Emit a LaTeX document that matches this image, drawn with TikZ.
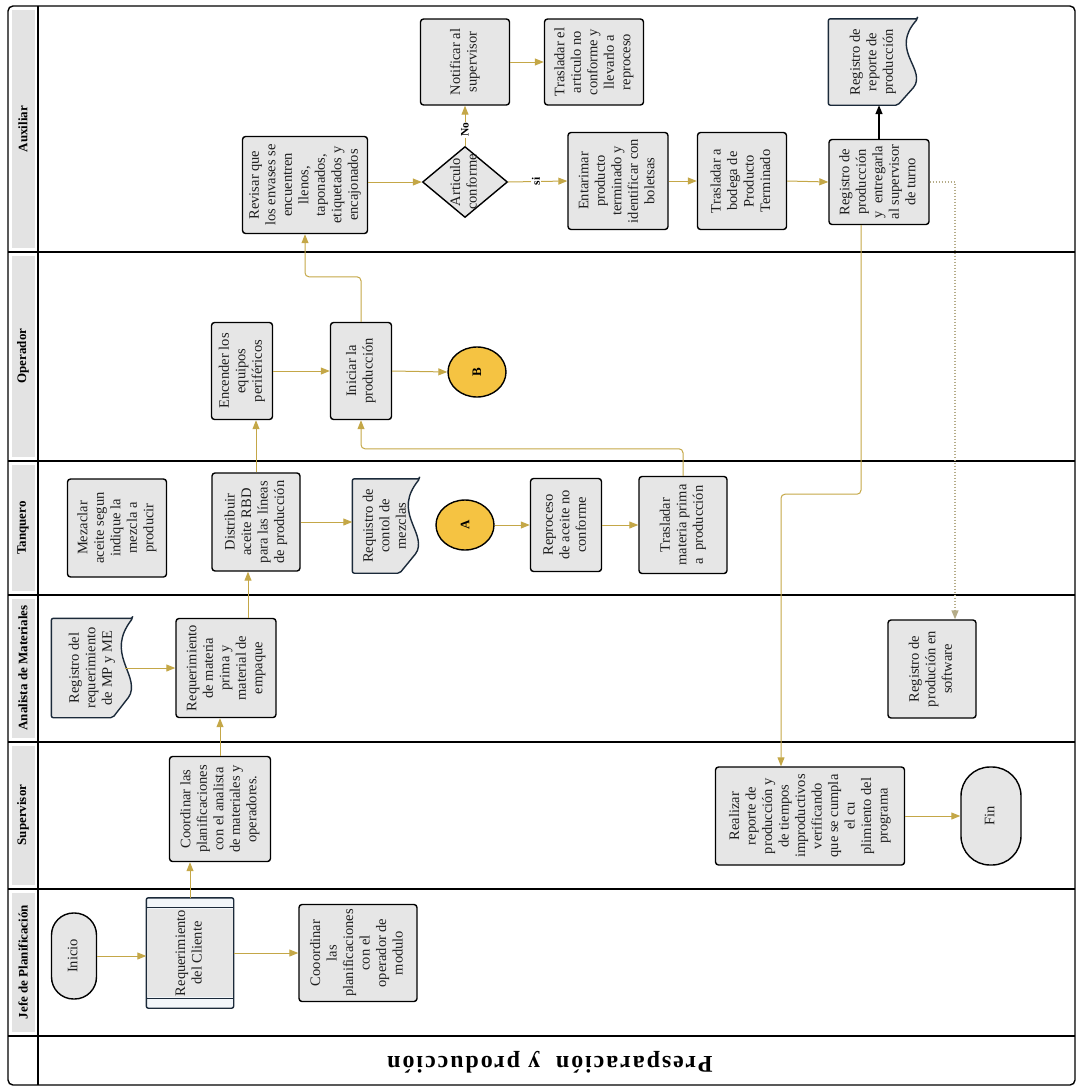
\documentclass[tikz,border=0pt]{standalone}
\usepackage{fontspec}
\setmainfont{Liberation Serif}
\usepackage{graphicx}
\usepackage{tikz}
\usetikzlibrary{positioning,arrows.meta,shapes.geometric,backgrounds,calc}
\definecolor{LaneGray}{HTML}{E3E3E3}
\definecolor{BoxGray}{HTML}{E6E6E6}
\definecolor{FlowGold}{HTML}{C4A747}
\definecolor{DotGold}{HTML}{B5AC88}
\definecolor{ConnGold}{HTML}{F5C342}
\definecolor{DocNavy}{HTML}{1B2A3A}
\definecolor{StripBlue}{HTML}{F2F6FA}
\definecolor{TextDark}{HTML}{1E1E1E}
\newcommand{\vtext}[1]{\rotatebox{90}{\begin{tabular}{@{}c@{}}#1\end{tabular}}}
% wavy document outline, wave on the right side
\newcommand{\docshape}[1]{%
  \filldraw[docline] (#1.north east) -- (#1.north west) -- (#1.south west)
    -- ($(#1.south east)+(-20pt,0)$)
    -- ($(#1.north east)!0.78!(#1.south east)+(-3pt,0)$)
    .. controls ($(#1.north east)!0.55!(#1.south east)+(5pt,0)$)
    and ($(#1.north east)!0.35!(#1.south east)+(-27pt,0)$) .. cycle;}
\tikzset{
  procbox/.style={rectangle, rounded corners=3pt, draw=black, line width=1.4pt,
    fill=BoxGray, inner sep=0pt, text=TextDark, font=\fontsize{14.5}{16.5}\selectfont},
  docbox/.style={rectangle, inner sep=0pt, text=TextDark, font=\fontsize{14.5}{16.5}\selectfont},
  docline/.style={draw=DocNavy, fill=BoxGray, line width=1.4pt, rounded corners=2pt},
  decbox/.style={diamond, draw=black, line width=1.4pt, fill=BoxGray, inner sep=0pt},
  connbox/.style={ellipse, draw=black, line width=1.4pt, fill=ConnGold, inner sep=0pt,
    minimum width=58pt, minimum height=50pt, font=\bfseries\fontsize{13}{15}\selectfont},
  flow/.style={draw=FlowGold, line width=1pt, -{Triangle[length=9pt,width=7pt]}},
  flowlbl/.style={fill=white, inner sep=1pt, rotate=90, font=\bfseries\fontsize{11.5}{13}\selectfont},
  lanelbl/.style={rotate=90, font=\bfseries\fontsize{13}{15}\selectfont},
  laneline/.style={line width=1.4pt}
}
\begin{document}
\begin{tikzpicture}[x=1pt, y=-1pt]
\useasboundingbox (0,0) rectangle (1077,1087);

% swimlanes
\fill[LaneGray] (12,10) rectangle (35,248);
\fill[LaneGray] (12,256) rectangle (35,457);
\fill[LaneGray] (12,465) rectangle (35,591);
\fill[LaneGray] (12,599) rectangle (35,738);
\fill[LaneGray] (12,746) rectangle (35,885);
\fill[LaneGray] (12,893) rectangle (35,1032);
\draw[laneline, rounded corners=5pt] (8,6) rectangle (1075,1085);
\draw[laneline] (38,6) -- (38,1085);
\draw[laneline] (8,252) -- (1075,252);
\draw[laneline] (8,461) -- (1075,461);
\draw[laneline] (8,595) -- (1075,595);
\draw[laneline] (8,742) -- (1075,742);
\draw[laneline] (8,889) -- (1075,889);
\draw[laneline] (8,1036) -- (1075,1036);
\node[lanelbl] (lnaux) at (23,129) {Auxiliar};
\node[lanelbl] (lnope) at (23,356) {Operador};
\node[lanelbl] (lntan) at (23,528) {Tanquero};
\node[lanelbl] (lnana) at (23,668) {Analista de Materiales};
\node[lanelbl] (lnsup) at (23,815) {Supervisor};
\node[lanelbl] (lnjef) at (23,962) {Jefe de Planificación};
\node[rotate=180, font=\bfseries\fontsize{24}{28}\selectfont\addfontfeatures{LetterSpace=8}] (titulo) at (550,1062) {Presparación\ \ y producción};

% Jefe de Planificacion
\node[procbox, rounded corners=22pt, minimum width=45pt, minimum height=86pt] (inicio) at (74,956) {\vtext{Inicio}};
\node[docbox, minimum width=87pt, minimum height=110pt] (reqcli) at (190,953) {\vtext{Requerimiento\\del Cliente}};
\node[procbox, minimum width=118pt, minimum height=97pt] (coordop) at (358,953) {\vtext{Cooordinar\\las\\planificaciones\\con el\\operador de\\modulo}};

% Supervisor
\node[procbox, minimum width=101pt, minimum height=105pt] (coordsup) at (220,809) {\vtext{Coordinar las\\planificaciones\\con el analista\\de materiales y\\operadores.}};
\node[procbox, minimum width=189pt, minimum height=98pt] (realizar) at (810,816) {\vtext{Realizar\\reporte de\\producción y\\de tiempos\\improductivos\\verificando\\que se cumpla\\el cu\\plimiento del\\programa}};
\node[procbox, rounded corners=29pt, minimum width=60pt, minimum height=98pt] (fin) at (991,816) {\vtext{Fin}};

% Analista de Materiales
\node[docbox, minimum width=81pt, minimum height=99pt] (regreq) at (92,668) {\vtext{Registro del\\requerimiento\\de MP y ME}};
\node[procbox, minimum width=100pt, minimum height=99pt] (reqmat) at (226,668) {\vtext{Requerimiento\\de materia\\prima y\\material de\\empaque}};
\node[procbox, minimum width=88pt, minimum height=98pt] (software) at (932,669) {\vtext{Registro de\\produción en\\software}};

% Tanquero
\node[procbox, minimum width=99pt, minimum height=98pt] (mezcla) at (117,528) {\vtext{Mezaclar\\aceite segun\\indique la\\mezcla a\\producir}};
\node[procbox, minimum width=88pt, minimum height=98pt] (distrib) at (256,522) {\vtext{Distribuir\\aceite RBD\\para las líneas\\de producción}};
\node[docbox, minimum width=67pt, minimum height=94pt] (regmez) at (386,526) {\vtext{Requistro de\\contol de\\mezclas}};
\node[connbox] (conA) at (465,525) {\rotatebox{90}{A}};
\node[procbox, minimum width=71pt, minimum height=93pt] (reproc) at (566,525) {\vtext{Reproceso\\de aceite no\\conforme}};
\node[procbox, minimum width=88pt, minimum height=97pt] (trasmp) at (683,525) {\vtext{Trasladar\\materia prima\\a\ \ producción}};

% Operador
\node[procbox, minimum width=61pt, minimum height=97pt] (encender) at (242,371) {\vtext{Encender los\\equipos\\periféricos}};
\node[procbox, minimum width=61pt, minimum height=97pt] (iniciar) at (361,371) {\vtext{Iniciar la\\producción}};
\node[connbox] (conB) at (477,372) {\rotatebox{90}{B}};

% Auxiliar
\node[procbox, minimum width=125pt, minimum height=97pt] (revisar) at (305,185) {\vtext{Revisar que\\los envases se\\encuentren\\llenos,\\taponados,\\etiquetados y\\encajonados}};
\node[decbox, minimum width=85pt, minimum height=71pt,
  label={[docbox]center:\vtext{Articulo\\conforme}}] (artconf) at (465,182) {};
\node[procbox, minimum width=89pt, minimum height=86pt] (notif) at (465,62) {\vtext{Notificar al\\supervisor}};
\node[procbox, minimum width=99pt, minimum height=86pt] (trasart) at (594,62) {\vtext{Trasladar el\\articulo no\\conforme y\\llevarlo a\\reproceso}};
\node[procbox, minimum width=100pt, minimum height=97pt] (entarimar) at (618,181) {\vtext{Entarimar\\producto\\terminado y\\identificar con\\boletsas}};
\node[procbox, minimum width=89pt, minimum height=97pt] (bodega) at (742,181) {\vtext{Trasladar a\\bodega de\\Producto\\Terminado}};
\node[procbox, minimum width=100pt, minimum height=85pt] (regprod) at (879,182) {\vtext{Registro de\\producción\\y\ \ entregarla\\al supervisor\\de turno}};
\node[docbox, minimum width=89pt, minimum height=86pt] (regrep) at (873,62) {\vtext{Registro de\\reporte de\\producción}};

% document and predefined process outlines
\begin{scope}[on background layer]
  \docshape{regreq}
  \docshape{regmez}
  \docshape{regrep}
  \filldraw[docline, fill=StripBlue] (reqcli.north west) rectangle (reqcli.south east);
  \fill[BoxGray] ([xshift=1pt,yshift=-11pt]reqcli.north west) rectangle ([xshift=-1pt,yshift=11pt]reqcli.south east);
  \draw[DocNavy, line width=1.2pt] ([yshift=-10pt]reqcli.north west) -- ([yshift=-10pt]reqcli.north east);
  \draw[DocNavy, line width=1.2pt] ([yshift=10pt]reqcli.south west) -- ([yshift=10pt]reqcli.south east);
\end{scope}

% connectors
\draw[flow] (inicio.east) -- (inicio.east -| reqcli.west);
\draw[flow] (reqcli.east) -- (coordop.west);
\draw[flow] (reqcli.north) -- (reqcli.north |- coordsup.south);
\draw[flow] (coordsup.north) -- (coordsup.north |- reqmat.south);
\draw[flow] ([xshift=-8pt]regreq.east) -- (reqmat.west);
\draw[flow] ([xshift=22pt]reqmat.north) -- ([xshift=22pt]reqmat.north |- distrib.south);
\draw[flow] (distrib.north) -- (distrib.north |- encender.south);
\draw[flow] (distrib.east) -- (distrib.east -| regmez.west);
\draw[flow] (encender.east) -- (iniciar.west);
\draw[flow] (iniciar.east) -- (conB.west);
\draw[flow] (conA.east) -- (reproc.west);
\draw[flow] (reproc.east) -- (trasmp.west);
\draw[flow, rounded corners=4pt] (trasmp.north) -- ++(0,-27) -| (iniciar.south);
\draw[flow, rounded corners=4pt] (iniciar.north) -- ++(0,-45) -| (revisar.south);
\draw[flow] (revisar.east |- artconf.west) -- (artconf.west);
\draw[flow] (artconf.north) -- node[flowlbl, pos=0.4] (lblno) {No} (notif.south);
\draw[flow] (notif.east) -- (trasart.west);
\draw[flow] (artconf.east) -- node[flowlbl, pos=0.47] (lblsi) {si} (entarimar.west);
\draw[flow] (entarimar.east) -- (bodega.west);
\draw[flow] (bodega.east) -- (regprod.west);
\draw[line width=1.4pt, -{Triangle[length=9pt,width=7pt]}] (regprod.north) -- (regprod.north |- regrep.south);
\draw[flow, rounded corners=4pt] ([xshift=-18pt]regprod.south) -- ++(0,269) -| ([xshift=-29pt]realizar.north);
\draw[flow, draw=DotGold, dotted, line width=1.4pt] (regprod.east) -| ([xshift=23pt]software.north);
\draw[flow] (realizar.east) -- (fin.west);
\end{tikzpicture}
\end{document}
